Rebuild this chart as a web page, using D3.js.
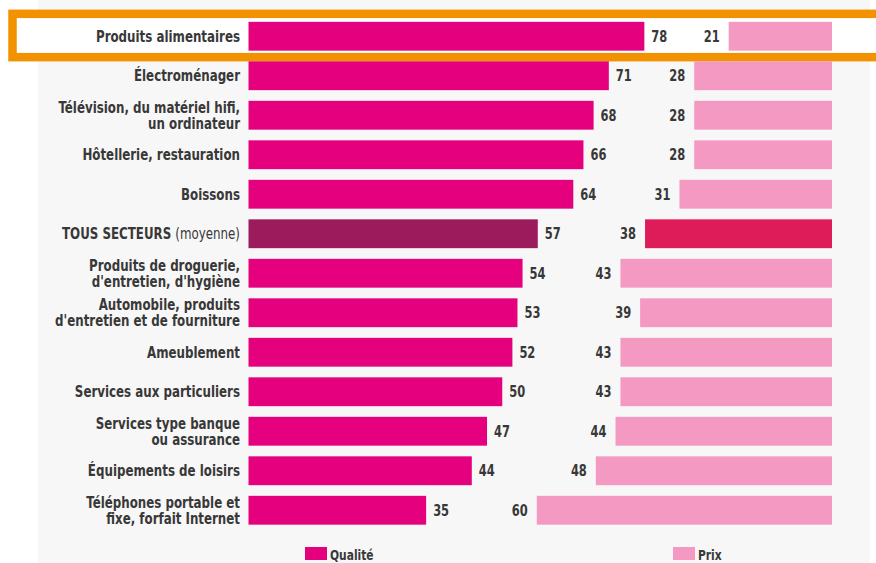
<!DOCTYPE html>
<html>
<head>
<meta charset="utf-8">
<script src="https://cdn.jsdelivr.net/npm/d3@7"></script>
<style>
  html, body { margin: 0; padding: 0; background: #ffffff; }
  svg { display: block; }
  text { font-family: "DejaVu Sans Condensed", "DejaVu Sans", sans-serif; fill: #383838; }
</style>
</head>
<body>
<svg id="chart" width="876" height="563"></svg>
<script>
// Secteurs (une ligne par secteur, "\n" = retour à la ligne)
const categories = [
  "Produits alimentaires",
  "Électroménager",
  "Télévision, du matériel hifi,\nun ordinateur",
  "Hôtellerie, restauration",
  "Boissons",
  "TOUS SECTEURS (moyenne)",
  "Produits de droguerie,\nd'entretien, d'hygiène",
  "Automobile, produits\nd'entretien et de fourniture",
  "Ameublement",
  "Services aux particuliers",
  "Services type banque\nou assurance",
  "Équipements de loisirs",
  "Téléphones portable et\nfixe, forfait Internet"
];
// Part des réponses (%)
const qualite = [78, 71, 68, 66, 64, 57, 54, 53, 52, 50, 47, 44, 35];
const prix    = [21, 28, 28, 28, 31, 38, 43, 39, 43, 43, 44, 48, 60];
const seriesNames = ["Qualité", "Prix"];
const averageLabel = "TOUS SECTEURS (moyenne)";
const highlighted = "Produits alimentaires";

const colors = {
  qualite: "#e5007e", prix: "#f49ac2",
  qualiteAvg: "#9b1b5d", prixAvg: "#dd1c59",
  highlight: "#f39200", panel: "#f7f7f7"
};

// horizontal squeeze giving the narrow lettering
const NARROW = 0.85;

const svg = d3.select("#chart");
const W = 876, H = 563;

const rows = categories.map((c, i) => ({ cat: c, q: qualite[i], p: prix[i] }));

const y = d3.scaleBand()
  .domain(categories)
  .range([16.5, 530])
  .paddingInner(0.27)
  .paddingOuter(0.135);
const cy = d => y(d.cat) + y.bandwidth() / 2;

// Qualité grows rightwards from the label column, Prix leftwards from the right edge
const xQ = d3.scaleLinear().domain([0, 100]).range([248.5, 248.5 + 507.5]);
const xP = d3.scaleLinear().domain([0, 100]).range([832, 832 - 492]);

// background panel
svg.append("rect").attr("x", 38).attr("y", 0).attr("width", 832).attr("height", H)
  .attr("fill", colors.panel);

// highlight frame around the first row
const hy = y(highlighted), hb = y.bandwidth();
svg.append("rect")
  .attr("x", 12.5).attr("y", hy - 8)
  .attr("width", W).attr("height", hb + 14.5)
  .attr("fill", "#ffffff")
  .attr("stroke", colors.highlight).attr("stroke-width", 8.5);

const g = svg.append("g");

// category labels
const labels = g.selectAll("text.cat").data(rows).join("text")
  .attr("class", "cat")
  .attr("text-anchor", "end")
  .attr("font-size", 15.5)
  .attr("font-weight", "bold")
  .attr("transform", d => `translate(240,${cy(d)}) scale(${NARROW},1)`);

labels.each(function(d) {
  const t = d3.select(this);
  if (d.cat === averageLabel) {
    t.attr("dy", "0.36em");
    t.append("tspan").text("TOUS SECTEURS ");
    t.append("tspan").attr("font-weight", "normal").text("(moyenne)");
    return;
  }
  const lines = d.cat.split("\n");
  const lh = 16;
  lines.forEach((ln, k) => {
    t.append("tspan").attr("x", 0)
      .attr("y", (k - (lines.length - 1) / 2) * lh)
      .attr("dy", "0.36em")
      .text(ln);
  });
});

// Qualité bars
g.selectAll("rect.q").data(rows).join("rect")
  .attr("class", "q")
  .attr("x", xQ(0))
  .attr("y", d => y(d.cat))
  .attr("width", d => xQ(d.q) - xQ(0))
  .attr("height", y.bandwidth())
  .attr("fill", d => d.cat === averageLabel ? colors.qualiteAvg : colors.qualite);

// Prix bars
g.selectAll("rect.p").data(rows).join("rect")
  .attr("class", "p")
  .attr("x", d => xP(d.p))
  .attr("y", d => y(d.cat))
  .attr("width", d => xP(0) - xP(d.p))
  .attr("height", y.bandwidth())
  .attr("fill", d => d.cat === averageLabel ? colors.prixAvg : colors.prix);

// value labels
g.selectAll("text.qv").data(rows).join("text")
  .attr("class", "qv")
  .attr("transform", d => `translate(${xQ(d.q) + 7},${cy(d)}) scale(${NARROW},1)`)
  .attr("dy", "0.36em")
  .attr("font-size", 15)
  .attr("font-weight", "bold")
  .text(d => d.q);

g.selectAll("text.pv").data(rows).join("text")
  .attr("class", "pv")
  .attr("transform", d => `translate(${xP(d.p) - 9},${cy(d)}) scale(${NARROW},1)`)
  .attr("dy", "0.36em")
  .attr("text-anchor", "end")
  .attr("font-size", 15)
  .attr("font-weight", "bold")
  .text(d => d.p);

// legend
const legend = [
  { name: seriesNames[0], color: colors.qualite, x: 305 },
  { name: seriesNames[1], color: colors.prix, x: 673 }
];
const lg = svg.selectAll("g.legend").data(legend).join("g")
  .attr("class", "legend")
  .attr("transform", d => `translate(${d.x},547)`);
lg.append("rect").attr("width", 22).attr("height", 13).attr("fill", d => d.color);
lg.append("text")
  .attr("transform", `translate(25,12.5) scale(${NARROW},1)`)
  .attr("font-size", 14).attr("font-weight", "bold")
  .text(d => d.name);
</script>
</body>
</html>
